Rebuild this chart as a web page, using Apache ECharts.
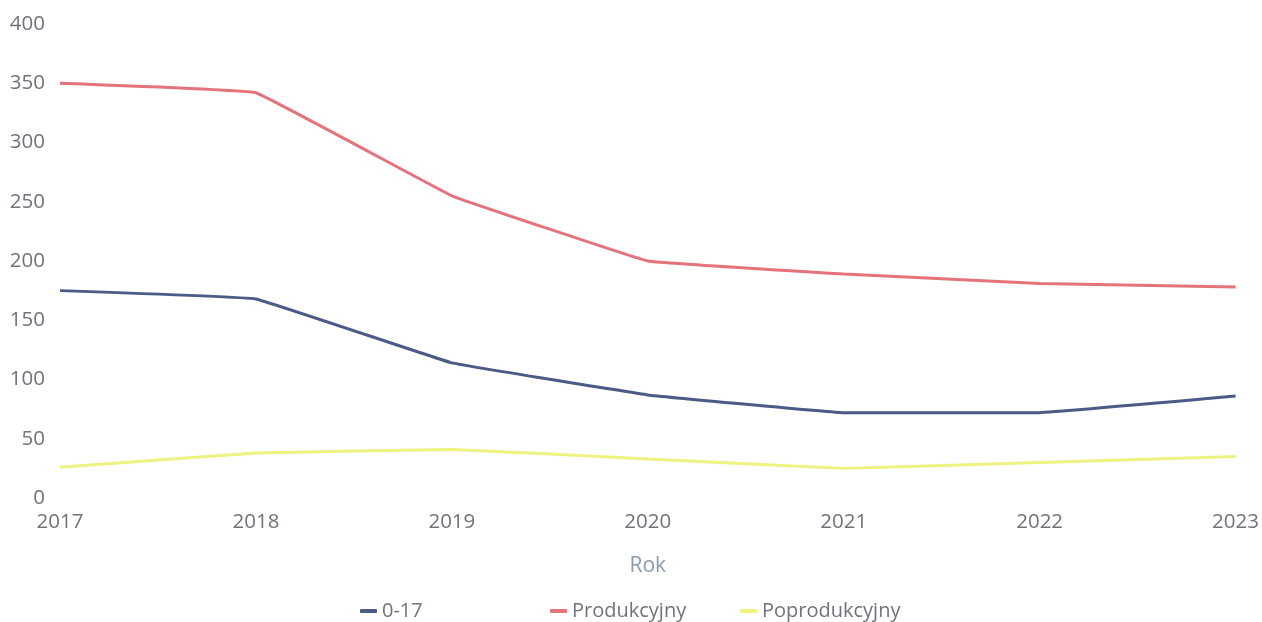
<!DOCTYPE html>
<html>
<head>
<meta charset="utf-8">
<script src="https://cdn.jsdelivr.net/npm/echarts@6/dist/echarts.min.js"></script>
<style>html,body{margin:0;padding:0;background:#fff}#c{width:1262px;height:622px}</style>
</head>
<body>
<div id="c"></div>
<script>
const years = ['2017','2018','2019','2020','2021','2022','2023'];
const s017 = [175, 168, 114, 87, 72, 72, 86];
const sProd = [350, 342, 255, 200, 189, 181, 178];
const sPoprod = [26, 38, 41, 33, 25, 30, 35];
const yTicks = {min: 0, max: 400, interval: 50};
const names = ['0-17', 'Produkcyjny', 'Poprodukcyjny'];
const colors = ['#4b5a86', '#e5737c', '#eef27e'];

const font = '"Open Sans", sans-serif';
const labelColor = '#70737d';
const chart = echarts.init(document.getElementById('c'), null, {renderer: 'canvas'});
const legendLeft = [355, 545, 735];
chart.setOption({
  backgroundColor: '#fff',
  animation: false,
  textStyle: {fontFamily: font},
  grid: {left: 60, right: 22, top: 24, bottom: 124},
  legend: names.map((n, i) => ({
    data: [n], left: legendLeft[i], top: 596,
    icon: 'roundRect', itemWidth: 17, itemHeight: 4, itemGap: 8,
    textStyle: {color: labelColor, fontSize: 20, fontFamily: font}
  })),
  xAxis: {
    type: 'category', data: years, boundaryGap: false,
    name: 'Rok', nameLocation: 'middle', nameGap: 58,
    nameTextStyle: {color: '#8b9ab1', fontSize: 21, fontFamily: font},
    axisLine: {show: false}, axisTick: {show: false},
    axisLabel: {color: labelColor, fontSize: 20.5, margin: 14, fontFamily: font},
    splitLine: {show: false}
  },
  yAxis: {
    type: 'value', min: yTicks.min, max: yTicks.max, interval: yTicks.interval,
    axisLine: {show: false}, axisTick: {show: false},
    axisLabel: {color: labelColor, fontSize: 20.5, margin: 15, fontFamily: font},
    splitLine: {show: false}
  },
  series: [s017, sProd, sPoprod].map((d, i) => ({
    name: names[i], type: 'line', data: d, smooth: 0.05,
    showSymbol: false, symbol: 'none',
    lineStyle: {color: colors[i], width: 3},
    itemStyle: {color: colors[i]}
  }))
});
</script>
</body>
</html>
